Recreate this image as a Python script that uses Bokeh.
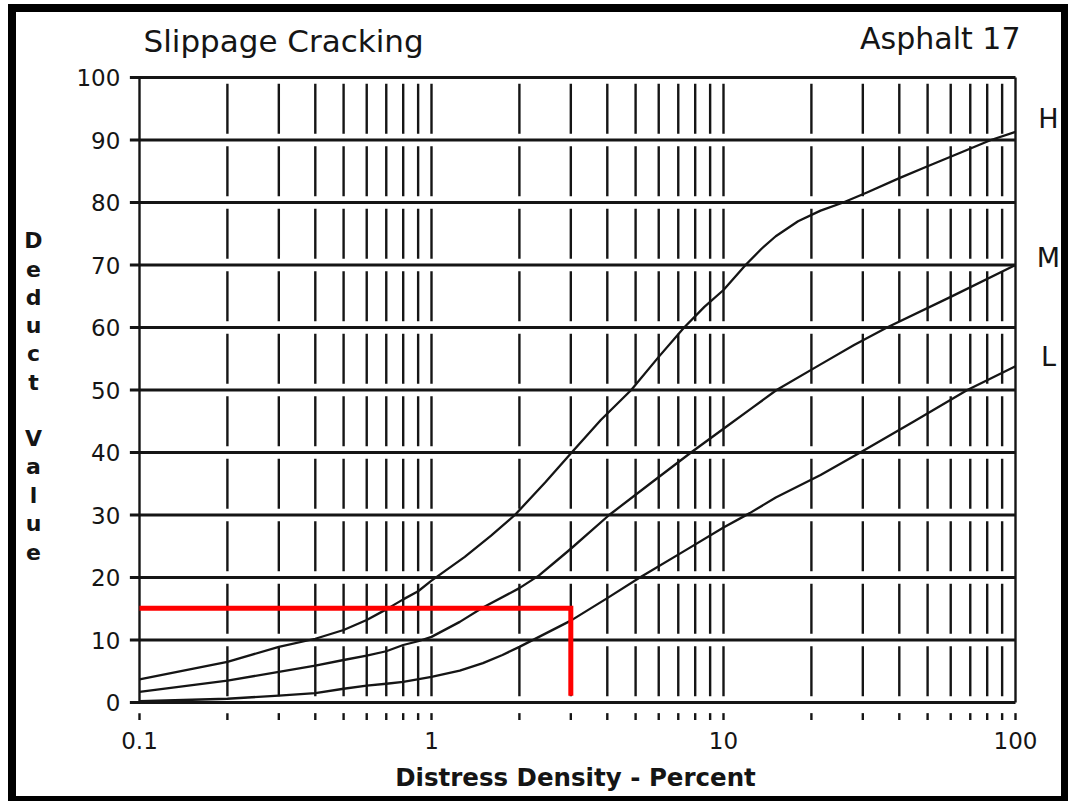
from bokeh.plotting import figure
from bokeh.models import Label, FixedTicker, Range1d, CustomJSTickFormatter
from bokeh.embed import file_html
from bokeh.resources import INLINE

# ---- data ----
x_major = [0.1, 1, 10, 100]
x_minor = [0.2, 0.3, 0.4, 0.5, 0.6, 0.7, 0.8, 0.9,
           2, 3, 4, 5, 6, 7, 8, 9,
           20, 30, 40, 50, 60, 70, 80, 90]
y_ticks = [0, 10, 20, 30, 40, 50, 60, 70, 80, 90, 100]

H_x = [0.1, 0.2, 0.3, 0.4, 0.5, 0.6, 0.7, 0.8, 0.9, 1.0, 1.3, 1.6, 1.93, 2.45, 3.02, 3.8, 4.83, 6.0, 7.33,
       8.6, 10, 11.9, 13.5, 15.1, 18, 21.5, 25.7, 31, 40, 50, 65, 82.4, 100]
H_y = [3.7, 6.5, 8.9, 10.2, 11.6, 13.2, 14.9, 16.5, 17.8, 19.5, 23.3, 26.7, 30, 35.2, 40, 45.2, 50, 55.3, 60,
       63.3, 66, 70, 72.6, 74.6, 77, 78.7, 80, 81.6, 83.9, 85.8, 88, 90, 91.3]

M_x = [0.1, 0.2, 0.3, 0.4, 0.5, 0.6, 0.7, 0.8, 0.9, 1.0, 1.25, 1.5, 2.0, 2.33, 2.7, 3.0, 4.06, 5.6, 7.74, 10,
       12.5, 15.2, 21.5, 28, 36.3, 60, 100]
M_y = [1.7, 3.5, 4.9, 5.9, 6.8, 7.5, 8.2, 9.2, 9.8, 10.5, 12.9, 15.2, 18.3, 20.3, 22.8, 24.6, 30, 35, 40, 43.8,
       47.1, 50, 54.1, 57.2, 60, 64.9, 70]

L_x = [0.1, 0.2, 0.3, 0.4, 0.5, 0.6, 0.7, 0.8, 1.0, 1.25, 1.5, 1.75, 2.0, 3.0, 4.0, 5.17, 7.5, 10, 12.3,
       15.1, 21.5, 29.4, 45, 68.4, 100]
L_y = [0.2, 0.6, 1.1, 1.5, 2.2, 2.7, 3.0, 3.3, 4.1, 5.1, 6.3, 7.6, 8.9, 13.1, 16.7, 20, 24.5, 28, 30.3,
       32.8, 36.4, 40, 45, 50, 53.8]

red_x = [0.1, 3.0, 3.0]
red_y = [15.1, 15.1, 1.1]

curve_names = ["H", "M", "L"]
curve_label_y = [93.4, 71.2, 55.4]

title_left = "Slippage Cracking"
title_right = "Asphalt 17"
x_title = "Distress Density - Percent"
y_title = "Deduct Value"

INK = "#151515"
FONT = "DejaVu Sans"

# page-pixel helpers used only to place the free texts
def lx(px):
    return 10 ** (-1 + (px - 139) / 292.0)

def ly(py):
    return (702 - py) / 6.25

p = figure(x_axis_type="log",
           x_range=Range1d(lx(16), lx(1061)),
           y_range=Range1d(ly(796), ly(12)),
           frame_width=1045, frame_height=784,
           min_border=0, min_border_left=0, min_border_right=0,
           min_border_top=0, min_border_bottom=0,
           output_backend="svg", toolbar_location=None,
           background_fill_color="white", border_fill_color="white",
           outline_line_color=None)
p.styles = {"border-style": "solid", "border-color": "black",
            "border-width": "8px 7px 5px 8px",
            "margin-left": "8px", "margin-top": "4px"}

p.xgrid.visible = False
p.ygrid.visible = False

for ax in (p.xaxis[0], p.yaxis[0]):
    ax.axis_line_color = None
    ax.major_tick_line_color = None
    ax.minor_tick_line_color = None
    ax.major_tick_in = 0
    ax.major_tick_out = 0
    ax.major_label_text_font = FONT
    ax.major_label_text_font_size = "23px"
    ax.major_label_text_color = INK

p.xaxis.ticker = FixedTicker(ticks=x_major)
p.xaxis.formatter = CustomJSTickFormatter(code="return tick >= 1 ? tick.toFixed(0) : tick.toFixed(1);")
p.xaxis.major_label_standoff = 11
p.xaxis.fixed_location = -3
p.yaxis.ticker = FixedTicker(ticks=y_ticks)
p.yaxis.major_label_standoff = 9
p.yaxis.fixed_location = 10 ** -1.035

# horizontal grid lines
x_left = 10 ** -1.033
p.segment(x0=[x_left] * len(y_ticks), y0=y_ticks, x1=[100] * len(y_ticks), y1=y_ticks,
          line_color=INK, line_width=3)

# vertical grid lines (broken between horizontal rules)
gap = 1.0
sx0, sy0, sx1, sy1 = [], [], [], []
for xv in x_minor + [1, 10]:
    for k in range(len(y_ticks) - 1):
        sx0.append(xv); sx1.append(xv)
        sy0.append(y_ticks[k] + gap); sy1.append(y_ticks[k + 1] - gap)
for xv in [0.1, 100]:
    sx0.append(xv); sx1.append(xv)
    sy0.append(y_ticks[0]); sy1.append(y_ticks[-1])
for xv in x_major + x_minor:
    sx0.append(xv); sx1.append(xv)
    sy0.append(-2.8); sy1.append(-1.7)
p.segment(x0=sx0, y0=sy0, x1=sx1, y1=sy1, line_color=INK, line_width=2.4)

# curves
for xs, ys in ((H_x, H_y), (M_x, M_y), (L_x, L_y)):
    p.line(xs, ys, line_color=INK, line_width=2.3, line_join="round")

# red reading line
p.line(red_x, red_y, line_color="#ff0000", line_width=5, line_join="miter")

def add_text(txt, x, y, size, align="center", bold=False):
    p.add_layout(Label(x=x, y=y, text=txt, text_font=FONT, text_font_size=size,
                       text_align=align, text_baseline="middle", text_color=INK,
                       text_font_style="bold" if bold else "normal"))

add_text(title_left, lx(143), ly(40), "31px", align="left")
add_text(title_right, lx(1020), ly(38), "30px", align="right")
add_text(x_title, lx(575), ly(777), "24.5px", bold=True)

for name, yv in zip(curve_names, curve_label_y):
    add_text(name, lx(1048), yv, "27px")

for i, ch in enumerate(y_title):
    if ch == " ":
        continue
    add_text(ch, lx(33), ly(240 + i * 28.3), "22px", bold=True)

open("out.html", "w").write(file_html(p, INLINE))
